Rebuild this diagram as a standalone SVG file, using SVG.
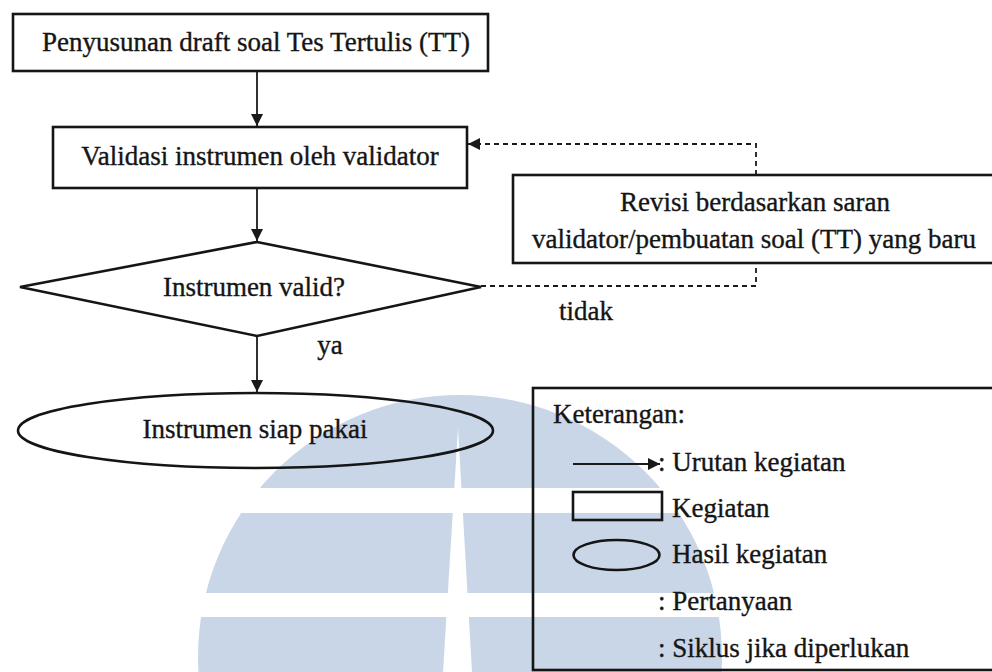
<svg xmlns="http://www.w3.org/2000/svg" width="992" height="672" viewBox="0 0 992 672" font-family="'Liberation Serif', 'DejaVu Serif', serif">
<style>
  text { font-family: 'Liberation Serif', 'Times New Roman', serif; font-size: 27px; fill: #151515; stroke: #151515; stroke-width: 0.35; }
  .mid { text-anchor: middle; }
  .shape { fill: none; stroke: #151515; stroke-width: 2.6; }
  .conn { fill: none; stroke: #1a1a1a; stroke-width: 1.8; }
  .dash { fill: none; stroke: #1a1a1a; stroke-width: 1.8; stroke-dasharray: 5 4; }
  .wm { fill: #c8d6e8; }
</style>
<defs>
  <marker id="arr" viewBox="0 0 10 10" refX="10" refY="5" markerWidth="12" markerHeight="12" markerUnits="userSpaceOnUse" orient="auto">
    <path d="M0,0 L10,5 L0,10 Z" fill="#1a1a1a"/>
  </marker>
  <mask id="wmMask">
    <rect x="0" y="0" width="992" height="672" fill="#fff"/>
    <rect x="0" y="488" width="992" height="25" fill="#000"/>
    <rect x="0" y="593" width="992" height="24" fill="#000"/>
    <polygon points="458,428 472,672 443,672" fill="#000"/>
  </mask>
</defs>
<rect x="0" y="0" width="992" height="672" fill="#ffffff"/>
<g id="watermark" mask="url(#wmMask)">
  <circle class="wm" cx="460" cy="657" r="262"/>
</g>

<g id="connectors">
  <line class="conn" x1="257" y1="71" x2="257" y2="126" marker-end="url(#arr)"/>
  <line class="conn" x1="257" y1="188" x2="257" y2="241" marker-end="url(#arr)"/>
  <line class="conn" x1="257" y1="336" x2="257" y2="392" marker-end="url(#arr)"/>
  <polyline class="dash" points="481,286 756,286 756,263"/>
  <polyline class="dash" points="756,175 756,144 468,144" marker-end="url(#arr)"/>
  <text x="586" y="320" class="mid">tidak</text>
  <text x="330" y="354" class="mid">ya</text>
</g>

<g id="n1">
  <rect class="shape" x="13" y="14" width="475" height="57"/>
  <text x="256" y="51" class="mid">Penyusunan draft soal Tes Tertulis (TT)</text>
</g>
<g id="n2">
  <rect class="shape" x="53" y="127" width="414" height="61"/>
  <text x="260" y="165" class="mid">Validasi instrumen oleh validator</text>
</g>
<g id="n3">
  <polygon class="shape" points="257,242 481,287 257,336 20,287"/>
  <text x="254" y="296" class="mid">Instrumen valid?</text>
</g>
<g id="n4">
  <rect class="shape" x="513" y="175" width="484" height="88"/>
  <text x="755" y="211" class="mid">Revisi berdasarkan saran</text>
  <text x="754" y="248" class="mid">validator/pembuatan soal (TT) yang baru</text>
</g>
<g id="n5">
  <ellipse class="shape" cx="255.5" cy="430.5" rx="237.5" ry="37.5"/>
  <text x="255" y="438" class="mid">Instrumen siap pakai</text>
</g>

<g id="legend">
  <rect class="shape" x="533" y="388" width="470" height="282"/>
  <text x="553" y="423">Keterangan:</text>
  <line class="conn" x1="573" y1="464" x2="660" y2="464" marker-end="url(#arr)"/>
  <text x="658" y="471">: Urutan kegiatan</text>
  <rect class="shape" x="573" y="492" width="89" height="28"/>
  <text x="672" y="517">Kegiatan</text>
  <ellipse class="shape" cx="616.5" cy="555" rx="43" ry="15"/>
  <text x="672" y="563">Hasil kegiatan</text>
  <text x="658" y="610">: Pertanyaan</text>
  <text x="658" y="657">: Siklus jika diperlukan</text>
</g>
</svg>
